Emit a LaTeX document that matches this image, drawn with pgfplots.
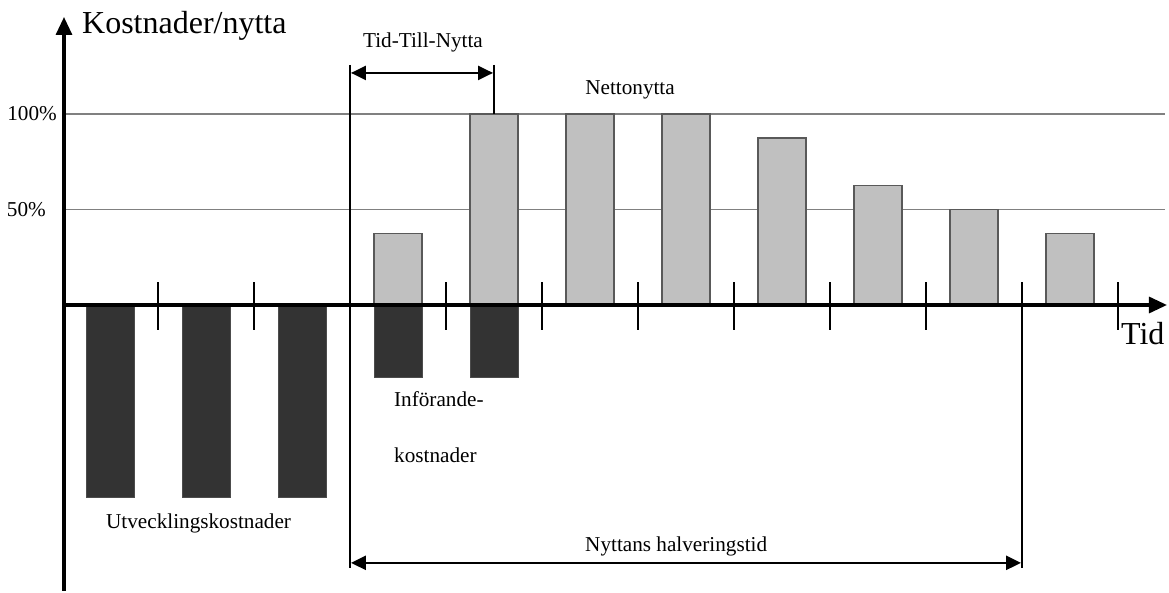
\documentclass[border=0pt]{standalone}
\usepackage{fontspec}
\setmainfont{Liberation Serif}
\usepackage{pgfplots}
\pgfplotsset{compat=1.18}
\usetikzlibrary{arrows.meta}
\definecolor{lightbar}{HTML}{C0C0C0}
\definecolor{darkbar}{HTML}{333333}
\definecolor{gridgray}{HTML}{808080}
\newcommand{\smallfs}{\fontsize{21.2}{25}\selectfont}
\newcommand{\bigfs}{\fontsize{32}{37}\selectfont}
\begin{document}
\begin{tikzpicture}
\begin{axis}[
  width=1169pt, height=591pt, scale only axis,
  xmin=-0.14583, xmax=12.03125, ymin=-149.74, ymax=159.69,
  hide axis, clip=false, bar width=0.5,
]
\path (rel axis cs:0,0) rectangle (rel axis cs:1,1);
% grid lines
\draw[gridgray, line width=1.3pt] (0.5208,100) -- (11.99,100);
\draw[gridgray, line width=1.3pt] (0.5208,50) -- (11.99,50);
% bars
\addplot[ybar, bar shift=0pt, fill=darkbar, draw=black!70, line width=1pt]
  coordinates {(1,-101) (2,-101) (3,-101) (4,-38) (5,-38)};
\addplot[ybar, bar shift=0pt, fill=lightbar, draw=black!65, line width=1.3pt]
  coordinates {(4,37.5) (5,100) (6,100) (7,100) (8,87.5) (9,62.5) (10,50) (11,37.5)};
% axes
\draw[line width=3.2pt, -{Triangle[length=18pt,width=16pt]}] (0.5208,-149.7) -- (0.5208,150.8);
\draw[line width=3.2pt, -{Triangle[length=18pt,width=16pt]}] (0.5208,0) -- (12.01,0);
% ticks
\foreach \t in {1.5,2.5,4.5,5.5,6.5,7.5,8.5,9.5,11.5}{
  \edef\tmp{\noexpand\draw[line width=1.2pt] (\t,12) -- (\t,-13);}\tmp
}
% tall lines
\draw[line width=1.8pt] (3.5,125.7) -- (3.5,-137.7);
\draw[line width=1.8pt] (10.5,12) -- (10.5,-137.7);
\draw[line width=1.8pt] (5,125.7) -- (5,100);
% arrows
\draw[line width=2.5pt, {Triangle[length=15pt,width=14pt]}-{Triangle[length=15pt,width=14pt]}] (3.51,121.5) -- (4.99,121.5);
\draw[line width=2.5pt, {Triangle[length=15pt,width=14pt]}-{Triangle[length=15pt,width=14pt]}] (3.51,-135) -- (10.49,-135);
% labels
\node[anchor=base west, inner sep=0pt] at (0.708,142.4) {\bigfs Kostnader/nytta};
\node[anchor=base west, inner sep=0pt] at (11.53,-20.9) {\bigfs Tid};
\node[anchor=east, inner sep=0pt] at (0.448,100) {\smallfs 100\%};
\node[anchor=east, inner sep=0pt] at (0.333,50) {\smallfs 50\%};
\node[anchor=base, inner sep=0pt] at (4.26,135) {\smallfs Tid-Till-Nytta};
\node[anchor=base, inner sep=0pt] at (6.417,110) {\smallfs Nettonytta};
\node[anchor=base west, inner sep=0pt] at (3.958,-53.4) {\smallfs Införande-};
\node[anchor=base west, inner sep=0pt] at (3.958,-82.7) {\smallfs kostnader};
\node[anchor=base west, inner sep=0pt] at (0.958,-116.8) {\smallfs Utvecklingskostnader};
\node[anchor=base west, inner sep=0pt] at (5.948,-128.8) {\smallfs Nyttans halveringstid};
\end{axis}
\end{tikzpicture}
\end{document}
